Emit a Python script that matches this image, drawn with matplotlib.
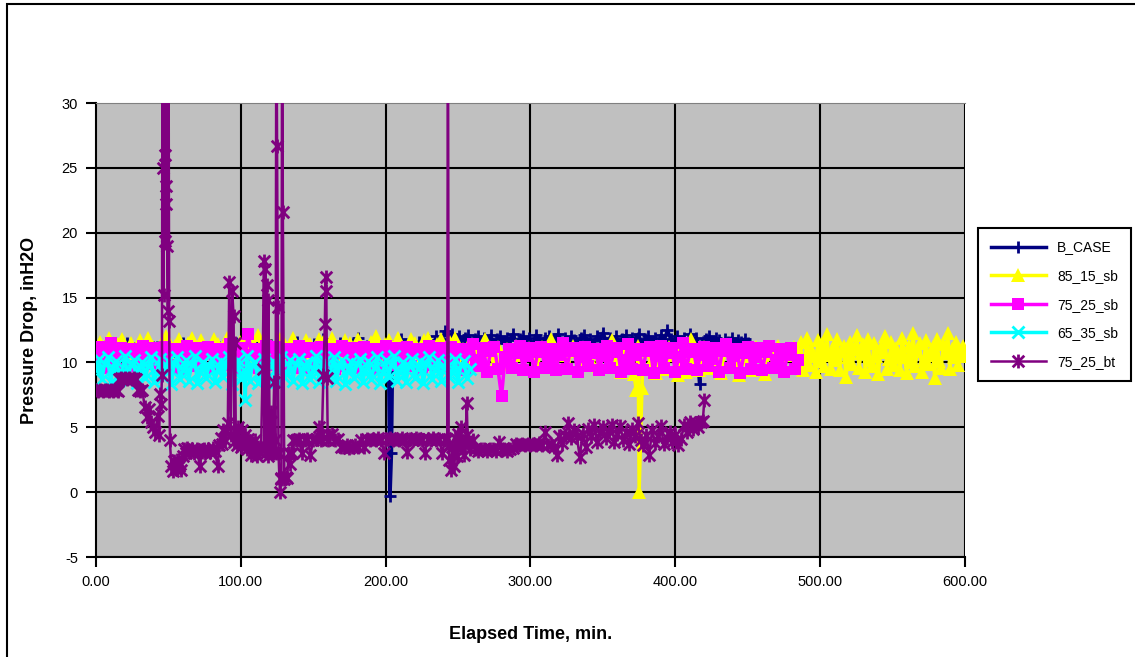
import numpy as np
import matplotlib.pyplot as plt
from matplotlib.patches import Rectangle
from matplotlib.path import Path

plt.rcParams['font.family'] = ['Liberation Sans', 'DejaVu Sans']
plt.rcParams['axes.unicode_minus'] = False

# B_CASE: two logged stretches (0-244 and 246-450 min) plus the dip near 203 min
bcase_a = [11.0, 10.7, 11.3, 10.9, 11.4, 10.8, 11.2, 11.5, 10.9, 11.1,
           11.3, 10.8, 11.6, 11.0, 11.2, 10.9, 11.4, 11.1, 10.8, 11.3,
           11.5, 11.0, 10.9, 11.2, 11.4, 10.8, 11.1, 11.6, 11.0, 11.3,
           10.9, 11.2, 11.5, 10.8, 11.1, 11.4, 11.0, 11.3, 10.9, 11.7,
           11.2, 10.9, 11.4, 11.1, 10.8, 11.3, 11.6, 11.0, 11.2, 10.9,
           11.4, 11.1, 11.8, 11.0, 11.3, 10.9, 11.5, 11.2, 10.8, 11.4,
           11.9, 11.1, 11.3, 11.0, 11.6, 11.2, 10.9, 11.5, 11.3, 11.1,
           11.8, 11.2, 11.4, 11.0, 11.6, 11.3, 11.7, 11.2, 12.0, 11.5, 12.4, 11.8]
bcase_b = [12.2, 11.6, 12.0, 11.4, 11.9, 12.1, 11.5, 11.8, 12.0, 11.3,
           11.9, 11.6, 12.1, 11.4, 11.8, 12.0, 11.5, 11.9, 11.7, 12.2,
           11.4, 11.8, 12.0, 11.6, 11.9, 11.3, 12.1, 11.7, 11.5, 11.9,
           12.0, 11.4, 11.8, 12.2, 11.6, 11.9, 11.5, 12.0, 11.7, 11.3,
           11.9, 12.1, 11.6, 11.8, 11.4, 12.0, 11.7, 12.3, 11.5, 11.9,
           11.6, 12.0, 11.4, 11.8, 12.1, 11.5, 11.9, 11.7, 12.2, 11.4,
           11.8, 12.0, 11.6, 11.9, 11.3, 12.1, 11.7, 12.5, 11.8, 11.5,
           12.0, 11.6, 11.9, 11.4, 12.2, 11.7, 11.9, 8.3, 11.6, 11.8,
           12.0, 11.5, 11.9, 11.7, 11.4, 11.8, 11.6, 11.9, 11.5, 11.7,
           11.6, 11.8, 11.5]
bcase_evt_t = [202, 203, 204]
bcase_evt_v = [9.8, -0.3, 3.0]

# 85_15_sb: 0-480 and 482-600 min plus the dip near 375 min
y85_a = [10.4, 11.6, 10.8, 11.9, 10.2, 11.4, 11.8, 10.6, 11.5, 10.9,
         11.7, 10.3, 11.9, 11.2, 10.7, 11.6, 12.0, 10.5, 11.3, 11.8,
         10.6, 11.5, 11.9, 10.4, 11.7, 11.1, 10.8, 11.8, 11.4, 10.5,
         11.9, 11.2, 10.7, 11.6, 11.8, 10.3, 11.5, 12.1, 10.9, 11.7,
         11.3, 10.6, 11.8, 11.5, 10.4, 11.9, 11.2, 10.8, 11.7, 11.4,
         10.5, 11.8, 11.6, 10.7, 11.9, 11.3, 10.6, 11.7, 11.5, 10.4,
         11.8, 11.1, 10.9, 11.6, 12.0, 10.5, 11.4, 11.7, 10.8, 11.9,
         11.2, 10.6, 11.8, 11.5, 10.3, 11.7, 11.9, 10.6, 11.4, 11.8,
         10.2, 11.6, 11.9, 9.9, 11.0, 11.3, 10.4, 11.2, 10.0, 11.8,
         10.9, 9.8, 11.2, 10.5, 11.0, 9.9, 11.3, 10.6, 9.8, 11.1,
         10.8, 9.9, 11.2, 10.1, 11.8, 9.7, 11.0, 10.6, 9.9, 11.3,
         10.9, 9.8, 11.1, 10.3, 10.8, 9.7, 11.2, 9.9, 11.7, 10.2,
         9.3, 11.0, 10.8, 9.1, 11.3, 9.6, 10.9, 10.0, 9.2, 11.1,
         9.5, 11.2, 10.6, 9.0, 11.0, 9.3, 11.8, 10.4, 9.4, 11.2,
         9.6, 11.0, 10.1, 9.2, 11.3, 9.8, 10.9, 9.0, 11.1, 10.3,
         9.4, 11.2, 10.5, 9.1, 10.9, 9.7, 11.3, 10.0, 11.0, 10.6]
y85_b = [11.2, 9.6, 10.8, 11.6, 9.4, 10.3, 11.9, 9.8, 11.0, 10.5,
         9.3, 11.7, 10.1, 11.4, 9.7, 12.2, 10.6, 9.5, 11.1, 10.2,
         11.8, 9.4, 10.9, 11.3, 8.9, 10.4, 11.6, 9.9, 11.0, 12.1,
         9.6, 10.7, 11.4, 9.3, 11.8, 10.2, 9.7, 11.5, 10.5, 9.1,
         11.2, 10.8, 12.0, 9.5, 10.3, 11.6, 9.8, 11.1, 10.4, 9.4,
         11.9, 10.6, 9.2, 11.3, 10.0, 12.3, 9.7, 10.9, 11.5, 9.3,
         10.2, 11.7, 9.9, 10.6, 11.2, 8.8, 11.8, 10.1, 9.6, 11.4,
         10.7, 12.3, 9.5, 11.0, 10.4, 11.6, 9.8, 10.9, 11.3, 10.5]
y85_evt_t = [373, 375, 377]
y85_evt_v = [7.9, 0.0, 8.0]

# 75_25_sb: 0-485 min
m75_v = [10.4, 11.2, 9.6, 10.9, 11.5, 9.8, 10.6, 11.1, 9.5, 10.8,
         11.0, 9.7, 10.5, 11.3, 9.9, 10.7, 11.1, 9.6, 10.3, 11.2,
         9.8, 10.9, 11.0, 9.5, 10.6, 11.3, 9.7, 10.4, 11.1, 9.9,
         10.8, 11.2, 9.6, 10.5, 11.0, 9.8, 10.7, 11.4, 9.5, 10.3,
         11.1, 9.7, 12.2, 10.6, 11.0, 9.6, 10.9, 11.3, 9.8, 10.4,
         11.2, 9.5, 10.7, 11.0, 9.9, 10.5, 11.3, 9.6, 10.8, 11.1,
         9.7, 10.4, 11.2, 9.8, 10.6, 11.0, 9.5, 10.9, 11.3, 9.7,
         10.5, 11.1, 9.6, 10.8, 11.2, 9.9, 10.3, 11.0, 9.5, 10.7,
         11.3, 9.8, 10.6, 11.1, 9.6, 10.4, 11.2, 9.7, 10.9, 11.0,
         9.5, 10.5, 11.3, 9.8, 10.7, 11.1, 9.6, 10.3, 11.2, 9.9,
         10.8, 11.0, 9.4, 10.6, 11.4, 9.7, 10.2, 11.1, 9.3, 10.9,
         11.2, 9.5, 7.4, 10.4, 11.0, 9.6, 10.7, 11.3, 9.4, 10.5,
         11.1, 9.3, 10.8, 11.2, 9.6, 10.3, 11.0, 9.4, 10.6, 11.5,
         9.5, 10.9, 11.1, 9.3, 10.4, 11.2, 9.7, 10.7, 11.0, 9.4,
         10.5, 11.3, 9.6, 10.8, 11.1, 9.3, 10.2, 11.4, 9.5, 10.6,
         11.0, 9.4, 10.9, 11.2, 9.2, 10.5, 11.3, 9.6, 10.7, 11.1,
         9.3, 10.4, 11.5, 9.5, 10.8, 11.0, 9.4, 10.6, 11.2, 9.7,
         10.3, 11.1, 9.3, 10.9, 11.4, 9.6, 10.5, 11.0, 9.2, 10.7,
         11.2, 9.5, 10.4, 11.1, 9.4, 10.8, 11.3, 9.6, 10.2, 11.0,
         9.3, 10.6, 11.1, 9.5, 10.2]

# 65_35_sb: 0-258 min plus the low reading near 103 min
c65_v = [9.4, 10.3, 8.7, 9.9, 10.4, 8.5, 9.6, 10.1, 8.9, 9.3,
         10.5, 8.6, 9.8, 10.2, 8.4, 9.5, 10.0, 8.8, 9.7, 10.4,
         8.5, 9.2, 10.3, 8.9, 9.6, 10.1, 8.3, 9.9, 10.4, 8.7,
         9.4, 10.2, 8.6, 9.8, 10.5, 8.4, 9.3, 10.0, 8.8, 9.7,
         10.3, 8.5, 9.5, 10.1, 8.9, 9.9, 10.4, 8.3, 9.6, 10.2,
         8.7, 9.4, 10.5, 8.6, 9.8, 10.0, 8.4, 9.3, 10.3, 8.8,
         9.7, 10.1, 8.5, 9.5, 10.4, 8.9, 9.2, 10.2, 8.6, 9.9,
         10.3, 8.4, 9.6, 10.0, 8.7, 9.4, 10.5, 8.5, 9.8, 10.1,
         8.9, 9.3, 10.4, 8.6, 9.7, 10.2, 8.3, 9.5, 10.0, 8.8,
         9.9, 10.3, 8.5, 9.4, 10.1, 8.7, 9.6, 10.4, 8.4, 9.2,
         10.2, 8.9, 9.8, 10.5, 8.6, 9.3, 10.0, 8.5, 9.7, 10.3,
         8.8, 9.5, 10.1, 8.4, 9.9, 10.4, 8.7, 9.4, 10.2, 8.6,
         9.6, 10.0, 8.9, 9.3, 10.3, 8.5, 9.8, 10.1, 8.8, 9.5]
c65_evt_t = [103]
c65_evt_v = [7.1]

# 75_25_bt (readings above 30 run off the top of the chart)
bt_t = [0, 1.5, 3, 4.5, 6, 7.5, 9, 10.5, 12, 13.5,
        15, 16, 17, 18.5, 20, 21.5, 23, 24.5, 26, 27.5,
        29, 30.5, 32, 33.5, 35, 36.5, 38, 39.5, 41, 42.5,
        43.5, 44.5, 45, 45.5, 46, 46.3, 46.6, 47, 47.3, 47.6,
        48, 48.3, 48.6, 49, 49.3, 49.6, 50, 50.5, 51, 52,
        53, 54, 55, 56, 57, 58, 59, 60, 61, 62,
        63, 64.5, 66, 67.5, 69, 70, 71.5, 73, 74.5, 75.5,
        76, 77.5, 79, 80.5, 82, 84, 85, 86, 87, 88,
        89, 90, 91, 92, 93, 94, 95, 95.5, 96, 96.5,
        97, 98, 99, 100, 101, 102, 103, 104, 105, 106,
        107, 108, 109, 110, 111, 112, 113, 114, 115, 116,
        116.5, 117, 117.5, 118, 118.5, 119, 120, 121, 122, 123,
        123.5, 124, 124.5, 125, 125.5, 126, 127, 127.5, 128, 128.5,
        129, 130, 131, 132, 133, 134, 135, 136, 138, 140,
        142, 144, 146, 148, 150, 152, 154, 155, 156, 157,
        158, 158.5, 159, 159.5, 160, 161, 163, 165, 167, 169,
        171, 173, 175, 177, 179, 181, 183, 185, 187, 189,
        191, 193, 195, 197, 199, 201, 203, 205, 207, 209,
        211, 213, 215, 217, 219, 221, 223, 225, 227, 229,
        231, 233, 235, 237, 239, 241, 242.5, 243, 243.5, 244,
        245, 246, 247, 248, 249, 250, 251, 252, 253, 254,
        255, 256, 256.5, 257, 258, 260, 262, 264, 266, 268,
        270, 272, 274, 276, 278, 280, 282, 284, 286, 288,
        290, 292, 294, 296, 298, 300, 302, 304, 306, 308,
        310, 312, 314, 316, 318, 320, 322, 324, 326, 328,
        330, 332, 334, 336, 338, 340, 342, 344, 346, 348,
        350, 352, 354, 356, 358, 360, 362, 364, 366, 368,
        370, 372, 374, 376, 378, 380, 382, 384, 386, 388,
        390, 392, 394, 396, 398, 400, 402, 404, 406, 408,
        410, 412, 414, 416, 418, 419, 420]
bt_v = [7.9, 7.8, 7.9, 7.8, 7.9, 7.9, 7.8, 7.9, 7.8, 7.9,
        7.8, 8.7, 8.8, 8.7, 8.8, 8.7, 8.8, 8.7, 8.8, 8.7,
        7.9, 7.8, 7.9, 6.6, 5.8, 6.4, 5.4, 5.0, 4.6, 5.9,
        4.4, 7.6, 6.8, 9.0, 40, 25.0, 15.2, 40, 26.0, 19.4,
        40, 23.6, 22.2, 40, 19.0, 14.0, 40, 13.2, 4.0, 2.0,
        1.6, 2.4, 1.8, 2.5, 2.0, 2.2, 1.7, 2.8, 3.3, 3.0,
        3.4, 3.1, 3.3, 3.0, 3.2, 3.3, 2.0, 3.1, 3.3, 3.0,
        3.2, 3.3, 3.1, 3.4, 3.2, 2.0, 3.6, 4.2, 3.7, 4.8,
        4.0, 4.6, 5.3, 16.2, 4.4, 15.5, 13.6, 3.9, 11.5, 4.6,
        3.6, 5.0, 4.2, 3.5, 4.8, 3.8, 4.4, 3.3, 4.1, 3.6,
        2.9, 3.8, 3.2, 4.0, 2.8, 3.5, 3.1, 3.4, 9.5, 17.8,
        3.4, 17.2, 3.0, 16.0, 2.8, 14.8, 3.5, 6.2, 3.0, 8.5,
        4.0, 3.0, 40, 26.7, 14.3, 3.0, 0.0, 1.0, 1.1, 40,
        21.6, 1.0, 1.2, 1.1, 3.0, 2.2, 3.0, 4.0, 4.0, 4.1,
        3.0, 4.0, 4.1, 2.9, 4.0, 4.1, 5.0, 4.0, 4.5, 9.0,
        13.0, 16.6, 15.5, 8.8, 4.0, 4.4, 4.5, 4.0, 4.1, 3.5,
        3.5, 3.6, 3.4, 3.5, 3.6, 3.5, 4.0, 3.5, 4.1, 4.0,
        4.1, 4.0, 4.2, 4.0, 3.0, 4.1, 4.2, 4.0, 4.1, 4.0,
        4.2, 4.0, 3.1, 4.1, 4.0, 4.2, 4.1, 4.0, 3.0, 4.1,
        4.0, 4.2, 4.0, 4.1, 3.0, 4.0, 4.1, 40, 3.6, 2.5,
        1.7, 3.5, 2.0, 4.2, 2.8, 4.5, 3.4, 5.0, 3.8, 2.9,
        3.6, 6.9, 4.4, 4.0, 3.3, 4.0, 3.3, 3.2, 3.3, 3.3,
        3.2, 3.3, 3.3, 3.2, 3.9, 3.3, 3.3, 3.2, 3.3, 3.4,
        3.7, 3.6, 3.7, 3.6, 3.7, 3.6, 3.7, 3.6, 3.8, 3.6,
        4.6, 3.6, 3.7, 3.5, 2.9, 4.3, 3.8, 4.4, 5.3, 4.2,
        4.8, 4.3, 2.7, 4.5, 3.5, 4.9, 4.3, 5.2, 3.9, 4.6,
        5.0, 4.2, 4.7, 5.2, 3.9, 4.5, 5.1, 4.0, 4.6, 3.7,
        4.9, 4.3, 5.3, 4.0, 3.6, 4.4, 2.9, 4.8, 3.8, 4.3,
        5.1, 3.7, 4.2, 4.6, 3.9, 4.4, 3.6, 4.1, 5.2, 4.6,
        5.4, 4.9, 5.3, 5.0, 5.4, 5.5, 7.1]


def build(segments, evt_t=(), evt_v=()):
    ts, vs = [], []
    for t0, t1, vals in segments:
        ts.append(np.linspace(t0, t1, len(vals)))
        vs.append(np.asarray(vals, dtype=float))
    t = np.concatenate(ts + [np.asarray(evt_t, dtype=float)])
    v = np.concatenate(vs + [np.asarray(evt_v, dtype=float)])
    order = np.argsort(t, kind='stable')
    return t[order], v[order]


# Excel style asterisk: an X with a vertical bar through it
star = Path([(-1, -1), (1, 1), (-1, 1), (1, -1), (0, -1.2), (0, 1.2)],
            [Path.MOVETO, Path.LINETO, Path.MOVETO, Path.LINETO, Path.MOVETO, Path.LINETO])

fig = plt.figure(figsize=(11.35, 6.57), dpi=100)
ax = fig.add_axes([0.0846, 0.1522, 0.7656, 0.691])
ax.set_facecolor('#c0c0c0')

for yy in range(-5, 30, 5):
    ax.axhline(yy, color='black', lw=1.5, zorder=1)
for xx in range(100, 601, 100):
    ax.axvline(xx, color='black', lw=1.5, zorder=1)

t, v = build([(0, 244, bcase_a), (246, 450, bcase_b)], bcase_evt_t, bcase_evt_v)
ax.plot(t, v, color='#000080', lw=2.5, marker='+', ms=9, mew=2, label='B_CASE', zorder=2)
t, v = build([(0, 480, y85_a), (482, 600, y85_b)], y85_evt_t, y85_evt_v)
ax.plot(t, v, color='#ffff00', lw=2.5, marker='^', ms=10, mew=0, label='85_15_sb', zorder=3)
t, v = build([(0, 485, m75_v)])
ax.plot(t, v, color='#ff00ff', lw=2.5, marker='s', ms=8, mew=0, label='75_25_sb', zorder=4)
t, v = build([(0, 258, c65_v)], c65_evt_t, c65_evt_v)
ax.plot(t, v, color='#00ffff', lw=2.5, marker='x', ms=8.5, mew=2, label='65_35_sb', zorder=5)
ax.plot(bt_t, bt_v, color='#800080', lw=1.8, marker=star, ms=10, mew=2,
        label='75_25_bt', zorder=6)

ax.set_xlim(0, 600)
ax.set_ylim(-5, 30)
ax.set_xticks(range(0, 601, 100))
ax.set_xticklabels(['%.2f' % x for x in range(0, 601, 100)])
ax.set_yticks(range(-5, 31, 5))
ax.tick_params(direction='out', length=7, width=1.5, labelsize=10.5, pad=6)
ax.spines['top'].set_color('#808080')
ax.spines['right'].set_visible(False)
ax.spines['left'].set_linewidth(1.5)
ax.spines['bottom'].set_linewidth(1.5)

ax.set_xlabel('Elapsed Time, min.', fontsize=13, fontweight='bold')
ax.set_ylabel('Pressure Drop, inH2O', fontsize=13, fontweight='bold')
ax.xaxis.set_label_coords(0.5, -0.152)
ax.yaxis.set_label_coords(-0.067, 0.5)

leg = fig.legend(loc='upper left', bbox_to_anchor=(0.8617, 0.653), borderaxespad=0,
                 fontsize=10, handlelength=4, labelspacing=1.05, fancybox=False,
                 framealpha=1, edgecolor='black', borderpad=0.9)
leg.get_frame().set_linewidth(1.5)

fig.add_artist(Rectangle((0.0062, -0.1), 1.2, 1.0939, transform=fig.transFigure,
                         fill=False, edgecolor='black', lw=1.5))

fig.savefig('out.png', dpi=100)
